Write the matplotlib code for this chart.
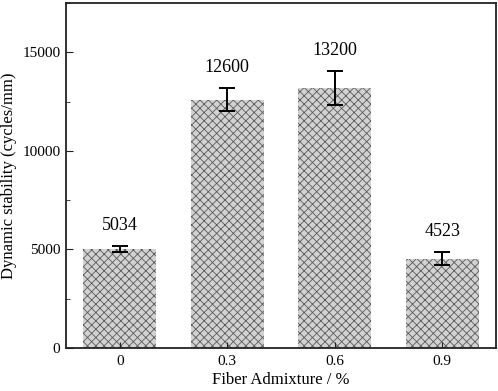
import matplotlib
matplotlib.use("Agg")
import matplotlib.pyplot as plt
import numpy as np
from matplotlib.ticker import MultipleLocator

categories = ["0", "0.3", "0.6", "0.9"]
values = [5034, 12600, 13200, 4523]
errors = [150, 600, 870, 330]
labels = ["5034", "12600", "13200", "4523"]

plt.rcParams['font.family'] = ['Liberation Serif', 'DejaVu Serif']
plt.rcParams['hatch.linewidth'] = 0.6
plt.rcParams['hatch.color'] = '#5a5a5a'

fig = plt.figure(figsize=(4.98, 3.91), dpi=100)
ax = fig.add_axes([66/498, 1-348/391, (496-66)/498, (348-3)/391])

x = np.arange(len(categories))
ax.bar(x, values, width=0.68, color='#d2d2d2', hatch='xxxx', edgecolor='#5a5a5a', linewidth=0)
ax.errorbar(x, values, yerr=errors, fmt='none', ecolor='black', elinewidth=1.4, capsize=5.5, capthick=1.4)
for xi, v, e, lab in zip(x, values, errors, labels):
    ax.text(xi, v + e + 600, lab, ha='center', va='bottom', fontsize=13)

ax.set_xlim(-0.5, 3.5)
ax.set_ylim(0, 17500)
ax.set_xticks(x)
ax.set_xticklabels(categories)
ax.yaxis.set_major_locator(MultipleLocator(5000))
ax.yaxis.set_minor_locator(MultipleLocator(2500))
ax.tick_params(axis='both', which='both', direction='in', labelsize=11, color='#222222')
ax.tick_params(axis='x', which='major', length=4, pad=5)
ax.tick_params(axis='y', which='major', length=5, pad=4)
ax.tick_params(axis='y', which='minor', length=3)
for s in ax.spines.values():
    s.set_linewidth(1.3)
    s.set_color('#222222')
ax.set_xlabel("Fiber Admixture / %", fontsize=12, labelpad=3)
ax.set_ylabel("Dynamic stability (cycles/mm)", fontsize=12, labelpad=4)
fig.savefig("out.png", dpi=100)
